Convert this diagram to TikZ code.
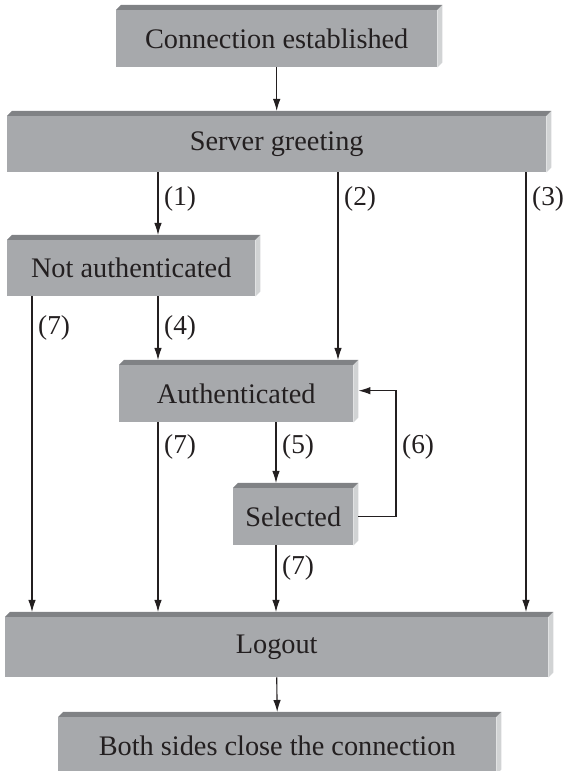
\documentclass[tikz,border=0pt]{standalone}
\usepackage{fontspec}
\setmainfont{Liberation Serif}
\usetikzlibrary{arrows.meta,calc}
\definecolor{boxgray}{HTML}{A7A9AC}
\definecolor{bevtop}{HTML}{808285}
\definecolor{bevside}{HTML}{D1D3D4}
\definecolor{ink}{HTML}{231F20}
\tikzset{
 box/.style={rectangle, fill=boxgray, inner sep=0pt, anchor=north west, font=\fontsize{28.3}{31}\selectfont, text=ink},
 arr/.style={draw=ink, line width=1.1pt, -{Latex[length=12pt,width=7.5pt]}},
 lab/.style={anchor=west, inner sep=0pt, font=\fontsize{27.3}{29}\selectfont, text=ink},
}
\newcommand{\bevelbox}[1]{%
 \fill[bevtop] (#1.north west) -- ++(5,5) -- ($(#1.north east)+(5,5)$) -- (#1.north east) -- cycle;
 \fill[bevside] (#1.north east) -- ++(5,5) -- ($(#1.south east)+(5,5)$) -- (#1.south east) -- cycle;}
\begin{document}
\begin{tikzpicture}[x=1pt,y=1pt]
\useasboundingbox (0,0) rectangle (565,771);
\clip (0,0) rectangle (565,771);
\node[box, minimum width=321pt, minimum height=57pt] (ce) at (116,761) {Connection established};
\node[box, minimum width=539pt, minimum height=56pt] (sg) at (7,655) {Server greeting};
\node[box, minimum width=248pt, minimum height=56pt] (na) at (7,531) {Not authenticated};
\node[box, minimum width=234pt, minimum height=57pt] (au) at (119,406) {Authenticated};
\node[box, minimum width=120pt, minimum height=57pt] (se) at (233,283) {Selected};
\node[box, minimum width=543pt, minimum height=60pt] (lo) at (5,154) {Logout};
\node[box, minimum width=438pt, minimum height=57pt] (bs) at (58,54) {Both sides close the connection};
\bevelbox{ce}\bevelbox{sg}\bevelbox{na}\bevelbox{au}\bevelbox{se}\bevelbox{lo}\bevelbox{bs}
\coordinate (c32) at (32,0);
\coordinate (c158) at (158,0);
\coordinate (c276) at (276,0);
\coordinate (c338) at (338,0);
\coordinate (c396) at (396,0);
\coordinate (c526) at (526,0);
\draw[arr] (ce.south) -- ($(sg.north)+(0,5)$);
\draw[arr] (c158 |- sg.south) -- ($(c158 |- na.north)+(0,5)$);
\draw[arr] (c338 |- sg.south) -- ($(c338 |- au.north)+(0,5)$);
\draw[arr] (c526 |- sg.south) -- ($(c526 |- lo.north)+(0,5)$);
\draw[arr] (c32 |- na.south) -- ($(c32 |- lo.north)+(0,5)$);
\draw[arr] (c158 |- na.south) -- ($(c158 |- au.north)+(0,5)$);
\draw[arr] (c158 |- au.south) -- ($(c158 |- lo.north)+(0,5)$);
\draw[arr] (c276 |- au.south) -- ($(c276 |- se.north)+(0,5)$);
\draw[arr] (c276 |- se.south) -- ($(c276 |- lo.north)+(0,5)$);
\draw[arr] (lo.south) -- ($(bs.north)+(0,5)$);
\coordinate (s6) at ($(se.east)+(5,0)$);
\coordinate (r6) at ($(au.east)+(5,3)$);
\draw[arr] (s6) -- (c396 |- s6) -- (c396 |- r6) -- (r6);
\node[lab] (l1) at (164,572) {(1)};
\node[lab] (l2) at (344,572) {(2)};
\node[lab] (l3) at (532,572) {(3)};
\node[lab] (l7a) at (38,443) {(7)};
\node[lab] (l4) at (164,443) {(4)};
\node[lab] (l7b) at (164,324) {(7)};
\node[lab] (l5) at (282,324) {(5)};
\node[lab] (l6) at (402,324) {(6)};
\node[lab] (l7c) at (282,203) {(7)};
\end{tikzpicture}
\end{document}
